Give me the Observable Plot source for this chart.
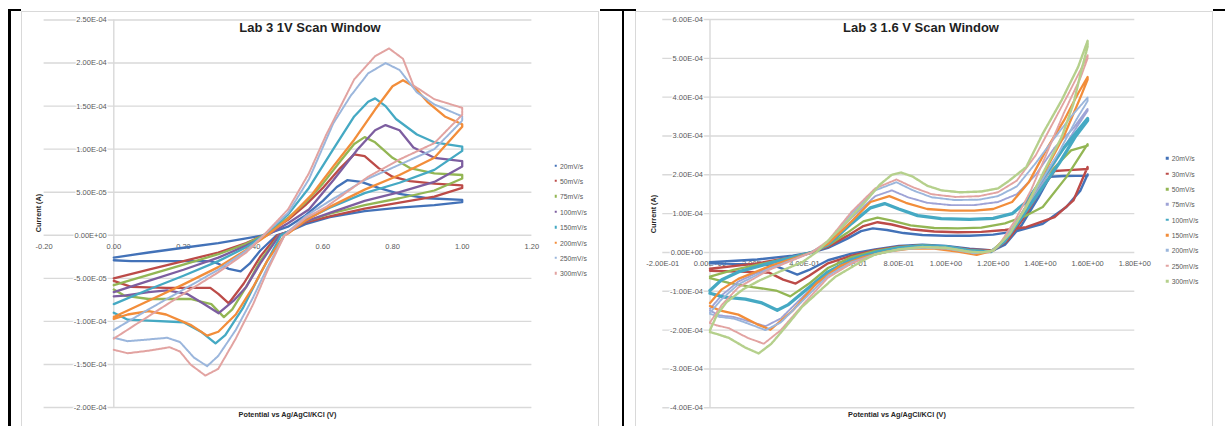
<!DOCTYPE html>
<html><head><meta charset="utf-8">
<script src="https://cdn.jsdelivr.net/npm/d3@7"></script>
<script src="https://cdn.jsdelivr.net/npm/@observablehq/plot@0.6"></script>
<style>
html,body{margin:0;padding:0;background:#fff;}
body{width:1225px;height:426px;overflow:hidden;position:relative;font-family:"Liberation Sans",Arial,sans-serif;}
.bl{position:absolute;background:#000;}
.box{position:absolute;border:1px solid #d9d9d9;box-sizing:border-box;}
.ctr{position:absolute;white-space:nowrap;transform:translate(-50%,-50%);}
.title{font-weight:bold;font-size:13px;color:#1f1f1f;}
.axt{font-weight:bold;font-size:7.3px;color:#262626;}
.vert{transform:translate(-50%,-50%) rotate(-90deg);}
.leg{position:absolute;font-size:6.8px;color:#595959;white-space:nowrap;transform:translateY(-50%);}
.mk{position:absolute;width:2.5px;height:2.5px;transform:translate(-50%,-50%);}
</style></head><body>
<script>
// ---------- LEFT CHART: Lab 3 1V Scan Window (potential V, current µA) ----------
const leftNames = ["20mV/s","50mV/s","75mV/s","100mV/s","150mV/s","200mV/s","250mV/s","300mV/s"];
const leftColors = ["#4372b8","#bc4b48","#93b654","#7d5ea0","#45a9c3","#f28d3a","#9bb6dc","#e2a3a1"];
const leftXTicks = [-0.2,0,0.2,0.4,0.6,0.8,1.0,1.2];
const leftXLabels = ["-0.20","0.00","0.20","0.40","0.60","0.80","1.00","1.20"];
const leftYTicks = [250,200,150,100,50,0,-50,-100,-150,-200];
const leftYLabels = ["2.50E-04","2.00E-04","1.50E-04","1.00E-04","5.00E-05","0.00E+00","-5.00E-05","-1.00E-04","-1.50E-04","-2.00E-04"];

const L20 = [[0,-26],[0.1,-20],[0.2,-14.5],[0.3,-9],[0.38,-3.5],[0.43,0],[0.5,10],[0.55,23],[0.6,40],[0.64,56],[0.67,64],[0.71,62],[0.76,55],[0.82,48],[0.9,43],[1.0,41],
  [1.0,38.5],[0.92,35],[0.82,32],[0.72,28],[0.62,21],[0.55,13],[0.5,4],[0.467,0],[0.42,-18],[0.39,-33],[0.364,-42],[0.33,-39],[0.3,-33],[0.277,-30],[0.15,-30],[0.05,-30],[0,-29]];
const L50 = [[0,-50],[0.1,-40],[0.2,-30],[0.3,-20],[0.38,-9],[0.43,0],[0.5,18],[0.55,35],[0.6,55],[0.65,78],[0.69,94],[0.72,92],[0.76,78],[0.8,68],[0.85,63],[0.92,60],[1.0,58],
  [1.0,55],[0.92,45],[0.82,38],[0.72,31],[0.62,22],[0.55,15],[0.5,4],[0.47,0],[0.42,-25],[0.373,-56],[0.33,-79],[0.3,-68],[0.277,-61],[0.15,-61],[0.05,-60],[0,-53]];
const L75 = [[0,-58],[0.1,-46],[0.2,-34],[0.3,-22],[0.38,-10],[0.43,0],[0.5,20],[0.55,38],[0.6,60],[0.65,86],[0.69,106],[0.72,114],[0.75,108],[0.8,90],[0.85,78],[0.92,72],[1.0,70],
  [1.0,66],[0.92,52],[0.82,43],[0.72,35],[0.62,25],[0.55,16],[0.5,4],[0.475,0],[0.42,-30],[0.38,-60],[0.34,-86],[0.316,-95],[0.28,-80],[0.22,-74],[0.1,-74],[0.03,-70],[0,-63]];
const L100 = [[0,-66],[0.1,-53],[0.2,-40],[0.3,-26],[0.38,-12],[0.44,0],[0.5,14],[0.56,30],[0.63,64],[0.7,100],[0.75,122],[0.78,128],[0.82,122],[0.86,102],[0.92,90],[1.0,86],
  [1.0,80],[0.92,62],[0.82,50],[0.72,40],[0.62,26],[0.55,16],[0.5,4],[0.475,0],[0.42,-33],[0.38,-60],[0.344,-76],[0.301,-90.5],[0.26,-80],[0.21,-68],[0.153,-64],[0.1,-66],[0.03,-70],[0,-71]];
const L150 = [[0,-80],[0.1,-63],[0.2,-47],[0.3,-30],[0.38,-14],[0.43,0],[0.5,24],[0.56,55],[0.63,100],[0.69,138],[0.73,155],[0.75,159],[0.78,150],[0.81,135],[0.87,117],[0.92,108],[1.0,103],
  [1.0,98],[0.92,76],[0.82,61],[0.72,49],[0.62,32],[0.55,18],[0.5,4],[0.48,0],[0.42,-45],[0.37,-85],[0.32,-116],[0.292,-125.5],[0.25,-112],[0.2,-101],[0.1,-99],[0.04,-98],[0,-90]];
const L200 = [[0,-95],[0.1,-76],[0.2,-57],[0.3,-37],[0.38,-17],[0.44,0],[0.5,19],[0.57,48],[0.63,80],[0.69,111],[0.75,146],[0.8,173],[0.83,180],[0.86,173],[0.9,155],[0.95,138],[1.0,129],
  [1.0,126],[0.92,90],[0.82,70],[0.72,53],[0.62,33],[0.55,17],[0.5,2],[0.49,0],[0.44,-30],[0.4,-60],[0.35,-92],[0.3,-112],[0.268,-116.5],[0.22,-104],[0.15,-92],[0.1,-88],[0.04,-92],[0,-97]];
const L250 = [[0,-110],[0.1,-86],[0.2,-63],[0.3,-40],[0.38,-18],[0.43,0],[0.5,26],[0.56,65],[0.63,130],[0.68,162],[0.73,188],[0.78,200],[0.82,192],[0.87,166],[0.92,152],[1.0,138],
  [1.0,133],[0.92,100],[0.82,82],[0.72,64],[0.62,40],[0.55,22],[0.5,4],[0.49,0],[0.44,-38],[0.4,-72],[0.35,-110],[0.3,-140],[0.268,-152],[0.23,-142],[0.19,-124],[0.153,-119],[0.1,-121],[0.04,-123],[0,-119]];
const L300 = [[0,-120],[0.1,-94],[0.2,-68],[0.3,-43],[0.38,-20],[0.43,0],[0.5,30],[0.56,72],[0.61,117],[0.69,181],[0.75,208],[0.79,217],[0.83,205],[0.86,174],[0.92,158],[1.0,148],
  [1.0,140],[0.92,107],[0.82,88],[0.73,68],[0.61,33],[0.55,20],[0.5,3],[0.49,0],[0.44,-42],[0.4,-80],[0.35,-120],[0.3,-155],[0.263,-163],[0.22,-150],[0.19,-135],[0.16,-130],[0.1,-134],[0.04,-137],[0,-133]];
const leftSeries = [L20,L50,L75,L100,L150,L200,L250,L300];

// ---------- RIGHT CHART: Lab 3 1.6 V Scan Window (potential V, current µA) ----------
const rightNames = ["20mV/s","30mV/s","50mV/s","75mV/s","100mV/s","150mV/s","200mV/s","250mV/s","300mV/s"];
const rightColors = ["#4372b8","#bc4b48","#93b654","#9ea3d6","#45a9c3","#f28d3a","#9bb6dc","#e2a3a1","#b5d08c"];
const rightXTicks = [-0.2,0,0.2,0.4,0.6,0.8,1.0,1.2,1.4,1.6,1.8];
const rightXLabels = ["-2.00E-01","0.00E+00","2.00E-01","4.00E-01","6.00E-01","8.00E-01","1.00E+00","1.20E+00","1.40E+00","1.60E+00","1.80E+00"];
const rightYTicks = [600,500,400,300,200,100,0,-100,-200,-300,-400];
const rightYLabels = ["6.00E-04","5.00E-04","4.00E-04","3.00E-04","2.00E-04","1.00E-04","0.00E+00","-1.00E-04","-2.00E-04","-3.00E-04","-4.00E-04"];

const R20 = [[0,-25],[0.2,-18],[0.35,-8],[0.43,0],[0.5,12],[0.58,35],[0.64,55],[0.69,62],[0.75,58],[0.82,50],[0.9,45],[1.0,43],[1.1,43],[1.2,46],[1.3,55],[1.41,74],[1.51,117],[1.57,160],[1.6,201],
  [1.6,198],[1.5,197],[1.44,195],[1.39,140],[1.32,70],[1.25,20],[1.2,5],[1.1,10],[1.0,17],[0.9,20],[0.8,17],[0.7,8],[0.6,-3],[0.5,-20],[0.42,-45],[0.37,-57],[0.32,-45],[0.27,-33],[0.15,-30],[0,-28]];
const R30 = [[0,-42],[0.2,-28],[0.35,-12],[0.43,0],[0.5,15],[0.58,42],[0.65,68],[0.71,78],[0.77,72],[0.85,60],[0.95,54],[1.05,52],[1.15,53],[1.25,58],[1.34,65],[1.46,91],[1.54,134],[1.6,220],
  [1.6,215],[1.52,212],[1.46,210],[1.4,160],[1.33,90],[1.26,30],[1.2,5],[1.1,8],[1.0,15],[0.9,18],[0.8,15],[0.7,6],[0.6,-8],[0.5,-28],[0.42,-60],[0.363,-80],[0.31,-70],[0.25,-52],[0.15,-50],[0,-47]];
const R50 = [[0,-62],[0.1,-45],[0.2,-32],[0.35,-12],[0.43,0],[0.5,18],[0.58,50],[0.65,80],[0.71,90],[0.77,82],[0.85,70],[0.95,63],[1.05,62],[1.15,64],[1.25,75],[1.34,95],[1.41,117],[1.51,194],[1.6,279],
  [1.6,275],[1.53,263],[1.43,200],[1.34,117],[1.27,50],[1.21,10],[1.18,2],[1.1,6],[1.0,15],[0.9,18],[0.8,14],[0.7,4],[0.6,-12],[0.5,-40],[0.42,-80],[0.34,-113],[0.28,-98],[0.18,-89],[0.08,-78],[0,-66]];
const R75 = [[0,-145],[0.05,-110],[0.12,-75],[0.25,-38],[0.43,0],[0.5,25],[0.6,90],[0.7,145],[0.77,160],[0.84,142],[0.92,128],[1.02,122],[1.12,122],[1.22,130],[1.3,150],[1.38,200],[1.46,270],[1.54,320],[1.6,370],
  [1.6,365],[1.54,310],[1.46,230],[1.38,150],[1.3,75],[1.24,25],[1.19,2],[1.12,-2],[1.0,10],[0.9,13],[0.8,8],[0.7,-5],[0.6,-22],[0.5,-55],[0.4,-110],[0.3,-170],[0.235,-190],[0.18,-180],[0.1,-166],[0.04,-162],[0,-150]];
const R100 = [[0,-98],[0.05,-70],[0.12,-50],[0.25,-28],[0.43,0],[0.5,20],[0.6,75],[0.68,115],[0.74,126],[0.8,112],[0.88,95],[0.98,87],[1.1,85],[1.2,88],[1.28,100],[1.34,130],[1.42,200],[1.5,270],[1.6,345],
  [1.6,340],[1.55,300],[1.48,230],[1.4,160],[1.32,90],[1.25,30],[1.19,2],[1.1,5],[1.0,15],[0.9,17],[0.8,12],[0.7,0],[0.6,-18],[0.5,-50],[0.4,-100],[0.33,-135],[0.285,-149],[0.22,-130],[0.15,-120],[0.06,-115],[0,-105]];
const R150 = [[0,-130],[0.05,-95],[0.12,-68],[0.25,-36],[0.43,0],[0.5,22],[0.6,80],[0.68,130],[0.76,145],[0.83,128],[0.92,112],[1.02,108],[1.12,108],[1.2,112],[1.28,130],[1.35,180],[1.43,270],[1.5,340],[1.56,410],[1.6,452],
  [1.6,445],[1.57,400],[1.5,300],[1.42,210],[1.34,120],[1.27,50],[1.2,5],[1.13,-6],[1.05,2],[0.95,10],[0.85,10],[0.75,2],[0.65,-12],[0.55,-35],[0.45,-80],[0.35,-150],[0.256,-199],[0.2,-185],[0.12,-160],[0.04,-149],[0,-138]];
const R200 = [[0,-155],[0.05,-120],[0.12,-82],[0.25,-42],[0.43,0],[0.5,28],[0.6,100],[0.7,160],[0.79,181],[0.86,160],[0.94,142],[1.04,135],[1.14,136],[1.22,145],[1.3,170],[1.38,230],[1.46,295],[1.53,350],[1.6,399],
  [1.6,390],[1.55,340],[1.48,260],[1.4,180],[1.32,100],[1.25,35],[1.2,5],[1.12,-2],[1.0,10],[0.9,12],[0.8,7],[0.7,-5],[0.6,-25],[0.5,-60],[0.4,-120],[0.3,-180],[0.235,-200],[0.17,-185],[0.1,-170],[0.04,-166],[0,-158]];
const R250 = [[0,-180],[0.05,-135],[0.12,-90],[0.25,-45],[0.43,0],[0.5,30],[0.6,105],[0.7,165],[0.79,188],[0.86,168],[0.94,150],[1.04,143],[1.14,145],[1.22,155],[1.3,185],[1.38,250],[1.45,330],[1.52,410],[1.57,470],[1.6,508],
  [1.6,500],[1.57,450],[1.5,360],[1.43,260],[1.36,160],[1.29,80],[1.22,15],[1.18,0],[1.1,2],[1.0,12],[0.9,14],[0.8,8],[0.7,-5],[0.6,-28],[0.5,-65],[0.4,-130],[0.3,-200],[0.228,-235],[0.16,-220],[0.08,-195],[0.03,-188],[0,-182]];
const R300 = [[0,-200],[0.03,-160],[0.07,-128],[0.14,-95],[0.21,-72],[0.3,-48],[0.39,-25],[0.45,0],[0.55,60],[0.65,125],[0.72,175],[0.77,200],[0.81,206],[0.86,195],[0.92,172],[0.98,160],[1.06,155],[1.15,157],[1.22,165],[1.27,186],[1.34,220],[1.41,306],[1.49,392],[1.56,478],[1.6,545],
  [1.6,530],[1.57,460],[1.54,383],[1.49,297],[1.41,203],[1.34,117],[1.27,48],[1.2,5],[1.15,0],[1.1,2],[1.0,12],[0.9,14],[0.8,8],[0.7,-5],[0.65,-20],[0.53,-63],[0.39,-140],[0.32,-192],[0.26,-235],[0.206,-260],[0.15,-245],[0.08,-220],[0.03,-210],[0,-205]];
const rightSeries = [R20,R30,R50,R75,R100,R150,R200,R250,R300];

// line styles (dense marker traces: saturated ones solid, pale ones speckled)
const leftStyle = [[2.3,null],[2.3,null],[2.3,null],[2.3,null],[2.3,null],[2.3,null],[2,"2.2,0.9"],[2,"2.2,0.9"]];
const rightStyle = [[2.4,null],[2.4,null],[2.3,null],[1.9,"2.2,0.9"],[3.3,null],[2.3,null],[1.9,"2.2,0.9"],[1.9,"2.2,0.9"],[2.4,"2.2,0.9"]];

function chart(o) {
  const marks = [
    Plot.ruleY(o.yTicks, {stroke: "#d9d9d9", strokeWidth: 1.4}),
    Plot.ruleX([0], {stroke: "#d9d9d9", strokeWidth: 1.4}),
    Plot.text(o.yTicks, {x: 0, y: d => d, text: (d, i) => o.yLabels[i], textAnchor: "end", dx: -7, fontSize: 7.5, fill: "#595959", stroke: "white", strokeWidth: 2.5}),
    Plot.text(o.xTicks, {x: d => d, y: 0, text: (d, i) => o.xLabels[i], dy: 11, fontSize: 7.5, fill: "#595959"}),
    ...o.series.map((s, k) => Plot.line(s, {x: d => d[0], y: d => d[1], stroke: o.colors[k], strokeWidth: o.style[k][0], strokeDasharray: o.style[k][1] || undefined, strokeLinejoin: "round"}))
  ];
  return Plot.plot({
    width: o.width, height: 426,
    marginLeft: o.ml, marginRight: o.mr, marginTop: o.mt, marginBottom: o.mb,
    x: {domain: [o.xTicks[0], o.xTicks[o.xTicks.length - 1]], axis: null},
    y: {domain: [o.yTicks[o.yTicks.length - 1], o.yTicks[0]], axis: null},
    style: {background: "transparent", fontFamily: "Liberation Sans, Arial, sans-serif", overflow: "visible"},
    marks
  });
}

function add(html) { document.body.insertAdjacentHTML("beforeend", html); }

// table borders
add('<div class="bl" style="left:8px;top:9px;width:2.5px;height:417px"></div>');
add('<div class="bl" style="left:8px;top:9px;width:13px;height:2px"></div>');
add('<div class="bl" style="left:600px;top:9px;width:36px;height:2px"></div>');
add('<div class="bl" style="left:621.5px;top:9px;width:2.5px;height:417px"></div>');
add('<div class="bl" style="left:1213px;top:9px;width:12px;height:2px"></div>');
// chart boxes
add('<div class="box" style="left:21px;top:11px;width:578px;height:430px"></div>');
add('<div class="box" style="left:635px;top:11px;width:578px;height:430px"></div>');

const left = chart({width: 578, ml: 22.6, mr: 67.6, mt: 19.5, mb: 19, xTicks: leftXTicks, xLabels: leftXLabels, yTicks: leftYTicks, yLabels: leftYLabels, series: leftSeries, colors: leftColors, style: leftStyle});
left.style.position = "absolute"; left.style.left = "21px"; left.style.top = "0px";
document.body.appendChild(left);
const right = chart({width: 577, ml: 26.3, mr: 78.7, mt: 19, mb: 18.7, xTicks: rightXTicks, xLabels: rightXLabels, yTicks: rightYTicks, yLabels: rightYLabels, series: rightSeries, colors: rightColors, style: rightStyle});
right.style.position = "absolute"; right.style.left = "636px"; right.style.top = "0px";
document.body.appendChild(right);

// titles and axis titles
add('<div class="ctr title" style="left:310px;top:27px">Lab 3 1V Scan Window</div>');
add('<div class="ctr title" style="left:921px;top:27px">Lab 3 1.6 V Scan Window</div>');
add('<div class="ctr axt" style="left:287.5px;top:414px">Potential vs Ag/AgCl/KCl (V)</div>');
add('<div class="ctr axt" style="left:897px;top:414px">Potential vs Ag/AgCl/KCl (V)</div>');
add('<div class="ctr axt vert" style="left:37.5px;top:213px">Current (A)</div>');
add('<div class="ctr axt vert" style="left:653px;top:214px">Current (A)</div>');

// legends
leftNames.forEach((n, i) => {
  const y = 165.5 + i * 15.4;
  add(`<div class="mk" style="left:555.5px;top:${y}px;background:${leftColors[i]}"></div>`);
  add(`<div class="leg" style="left:560px;top:${y}px">${n}</div>`);
});
rightNames.forEach((n, i) => {
  const y = 158.3 + i * 15.35;
  add(`<div class="mk" style="left:1167.3px;top:${y}px;background:${rightColors[i]}"></div>`);
  add(`<div class="leg" style="left:1171.7px;top:${y}px">${n}</div>`);
});
</script>
</body></html>
